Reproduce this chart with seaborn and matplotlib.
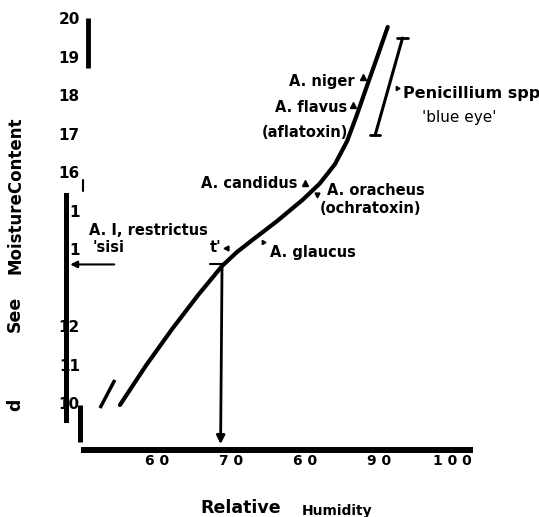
# Seed moisture content vs relative humidity, with mould growth zones
import matplotlib
matplotlib.use("Agg")
import matplotlib.pyplot as plt
import seaborn as sns
import pandas as pd

# Data
rh = [55.0, 58.5, 62.0, 65.5, 68.8, 70.8, 73.0, 76.2, 79.7, 82.0, 84.05, 85.7, 87.0, 88.4, 89.8, 91.2]
moisture = [9.95, 10.97, 11.91, 12.79, 13.56, 13.92, 14.25, 14.72, 15.28, 15.70, 16.20, 16.80, 17.47, 18.24, 19.00, 19.77]
break_rh = [52.3, 54.3]
break_mc = [9.87, 10.6]
crit_rh = 68.8
crit_mc = 13.6
penicillium_rh = [93.2, 89.5]
penicillium_mc = [19.48, 16.96]

x_ticks = [60, 70, 80, 90, 100]
x_tick_labels = ["6 0", "7 0", "6 0", "9 0", "1 0 0"]
y_ticks = [10, 11, 12, 13, 14, 15, 16, 17, 18, 19, 20]
y_tick_labels = ["10", "11", "12", "", "1", "1", "16", "17", "18", "19", "20"]

df = pd.DataFrame({"rh": rh, "moisture": moisture})

sns.set_theme(style="white")
plt.rcParams["font.family"] = ["DejaVu Sans"]
plt.rcParams["font.weight"] = "bold"
plt.rcParams["text.color"] = "black"
plt.rcParams["xtick.color"] = "black"
plt.rcParams["ytick.color"] = "black"

fig = plt.figure(figsize=(5.39, 5.17), dpi=100)
ax = fig.add_axes([66 / 539, 1 - 450 / 517, (475 - 66) / 539, (450 - 5) / 517])

# main curve
sns.lineplot(data=df, x="rh", y="moisture", ax=ax, color="black", lw=3, sort=False)
ax.lines[0].set_solid_joinstyle("round")
ax.plot(break_rh, break_mc, color="black", lw=2.5, solid_capstyle="butt")

ax.set_xlim(47.7, 103.0)
ax.set_ylim(8.78, 20.34)

# broken axes as in the scan
for s in ["top", "right"]:
    ax.spines[s].set_visible(False)
ax.spines["left"].set_bounds(9.56, 15.4)
ax.spines["left"].set_linewidth(3.6)
ax.spines["bottom"].set_bounds(50.1, 102.3)
ax.spines["bottom"].set_linewidth(4.3)
for sp in ax.spines.values():
    sp.set_color("black")
ax.plot([50.68, 50.68], [20.0, 18.7], color="black", lw=3.5, solid_capstyle="butt")
ax.plot([49.6, 49.6], [9.95, 8.99], color="black", lw=3.6, solid_capstyle="butt")
ax.plot([50.0, 50.0], [15.8, 15.5], color="black", lw=1.5)

ax.set_xticks(x_ticks)
ax.set_xticklabels(x_tick_labels, fontsize=10, fontweight="bold")
ax.set_yticks(y_ticks)
ax.set_yticklabels(y_tick_labels, fontsize=11, fontweight="bold")
ax.tick_params(axis="x", length=0, pad=3)
ax.tick_params(axis="y", length=0, pad=-10)
ax.set_xlabel("")
ax.set_ylabel("")

# critical point arrows
ax.annotate("", xy=(68.6, 8.86), xytext=(crit_rh, crit_mc),
            arrowprops=dict(arrowstyle="-|>", color="black", lw=2, mutation_scale=12))
ax.annotate("", xy=(47.9, crit_mc), xytext=(54.6, crit_mc),
            arrowprops=dict(arrowstyle="-|>", color="black", lw=1.5, mutation_scale=10))
ax.plot([67.2, crit_rh], [crit_mc, crit_mc], color="black", lw=1.5)

# Penicillium range bar
ax.plot(penicillium_rh, penicillium_mc, color="black", lw=2.2)
ax.plot([penicillium_rh[0] - 0.7, penicillium_rh[0] + 0.7], [penicillium_mc[0]] * 2, color="black", lw=2)
ax.plot([penicillium_rh[1] - 0.7, penicillium_rh[1] + 0.7], [penicillium_mc[1]] * 2, color="black", lw=2)

# species labels
fs = 10.5
ax.text(86.76, 18.36, "A. niger", ha="right", va="center", fontsize=fs, fontweight="bold")
ax.plot(87.8, 18.47, marker="^", color="black", ms=4)
ax.text(85.7, 17.69, "A. flavus", ha="right", va="center", fontsize=fs, fontweight="bold")
ax.plot(86.5, 17.74, marker="^", color="black", ms=4)
ax.text(85.9, 17.04, "(aflatoxin)", ha="right", va="center", fontsize=fs, fontweight="bold")
ax.text(79.05, 15.71, "A. candidus", ha="right", va="center", fontsize=fs, fontweight="bold")
ax.plot(80.0, 15.71, marker="^", color="black", ms=4)
ax.text(82.97, 15.53, "A. oracheus", ha="left", va="center", fontsize=fs, fontweight="bold")
ax.plot(81.6, 15.4, marker="v", color="black", ms=3.5)
ax.text(82.0, 15.06, "(ochratoxin)", ha="left", va="center", fontsize=fs, fontweight="bold")
ax.text(75.3, 13.9, "A. glaucus", ha="left", va="center", fontsize=fs, fontweight="bold")
ax.plot(74.3, 14.18, marker=(3, 0, 30), color="black", ms=3.5)
ax.text(93.3, 18.05, "Penicillium spp", ha="left", va="center", fontsize=11.5, fontweight="bold")
ax.plot(92.4, 18.18, marker=(3, 0, 150), color="black", ms=3.5)
ax.text(95.9, 17.43, "'blue eye'", ha="left", va="center", fontsize=11, fontweight="normal")
ax.text(50.8, 14.49, "A. I, restrictus", ha="left", va="center", fontsize=fs, fontweight="bold")
ax.text(51.3, 14.03, "'sisi", ha="left", va="center", fontsize=fs, fontweight="bold")
ax.text(67.2, 14.03, "t'", ha="left", va="center", fontsize=fs, fontweight="bold")
ax.plot(69.3, 14.03, marker="<", color="black", ms=3.5)

# axis titles (broken up as in the scan)
fig.text(0.028, 1 - 195 / 517, "MoistureContent", rotation=90, ha="center", va="center",
         fontsize=12, fontweight="bold")
fig.text(0.028, 1 - 314 / 517, "See", rotation=90, ha="center", va="center",
         fontsize=12.5, fontweight="bold")
fig.text(0.028, 1 - 405 / 517, "d", rotation=90, ha="center", va="center",
         fontsize=12.5, fontweight="bold")
fig.text(241 / 539, 1 - 508 / 517, "Relative", ha="center", va="center", fontsize=12.5, fontweight="bold")
fig.text(337 / 539, 1 - 511 / 517, "Humidity", ha="center", va="center", fontsize=10, fontweight="bold")

fig.savefig("out.png", dpi=100)
